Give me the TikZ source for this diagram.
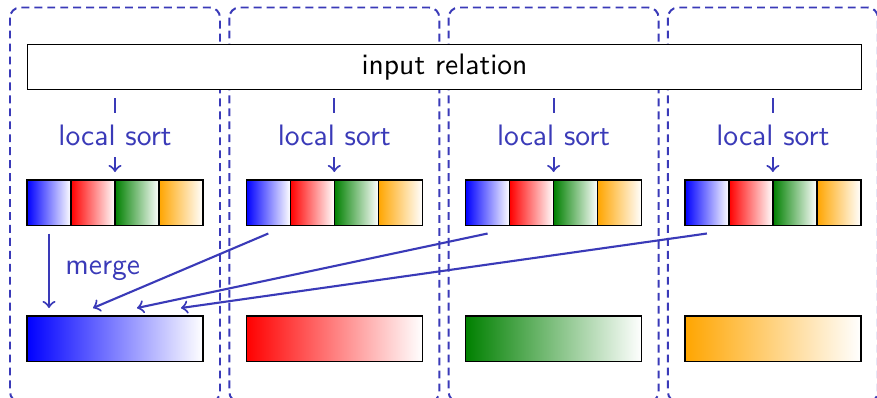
\documentclass[tikz,border=0pt]{standalone}
\usetikzlibrary{calc}
\definecolor{accent}{RGB}{58,58,184}
\definecolor{myorange}{RGB}{255,165,0}
\definecolor{mygreen}{RGB}{0,128,0}
\newlength\pxunit
\setlength\pxunit{0.355pt}
\begin{document}
\begin{tikzpicture}[x=\pxunit,y=-\pxunit, font=\sffamily\fontsize{10.5}{12.5}\selectfont,
  part/.style={draw=accent, dash pattern=on 2.8pt off 1.8pt, line width=0.7pt, rounded corners=3.6pt},
  seg/.style={draw=black, line width=0.45pt, minimum width=44\pxunit, minimum height=45.5\pxunit, inner sep=0pt, outer sep=0pt, anchor=north west},
  bigbar/.style={draw=black, line width=0.45pt, minimum width=176\pxunit, minimum height=45.5\pxunit, inner sep=0pt, outer sep=0pt, anchor=north west},
  flow/.style={->, draw=accent, line width=0.75pt},
  lbl/.style={text=accent, fill=white, inner sep=0pt, minimum height=44\pxunit}]
\useasboundingbox (0,0) rectangle (877,397);
% partition frames
\foreach \i in {0,1,2,3}{
  \draw[part] ({10+219.3*\i},7.5) rectangle ({220+219.3*\i},402);
}
% input relation
\node[draw=black, line width=0.45pt, fill=white, anchor=north west, minimum width=833.7\pxunit, minimum height=45\pxunit, inner sep=0pt] (input) at (27,44) {input relation};
% groups
\foreach \i in {0,1,2,3}{
  \pgfmathsetmacro{\xo}{27+219.3*\i}
  \node[seg, left color=blue, right color=white] (s\i a) at (\xo,180) {};
  \node[seg, left color=red, right color=white] (s\i b) at (s\i a.north east) {};
  \node[seg, left color=mygreen, right color=white] (s\i c) at (s\i b.north east) {};
  \node[seg, left color=myorange, right color=white] (s\i d) at (s\i c.north east) {};
  \coordinate (top\i) at ($(s\i b.north east)+(0,-8)$);
  \coordinate (src\i) at ($(top\i |- input.south)+(0,8)$);
  \draw[flow] (src\i) -- node[lbl] {local sort} (top\i);
}
\node[bigbar, left color=blue, right color=white] (b0) at (27,316) {};
\node[bigbar, left color=red, right color=white] (b1) at (246.3,316) {};
\node[bigbar, left color=mygreen, right color=white] (b2) at (465.6,316) {};
\node[bigbar, left color=myorange, right color=white] (b3) at (684.9,316) {};
% merge arrows
\foreach \i in {0,1,2,3}{
  \coordinate (from\i) at ($(s\i a.south)+(0,8)$);
  \coordinate (to\i) at ($(b0.north west)+({22+44*\i},-8)$);
}
\draw[flow] (from0) -- node[right, text=accent, xshift=6\pxunit] {merge} (to0);
\draw[flow] (from1) -- (to1);
\draw[flow] (from2) -- (to2);
\draw[flow] (from3) -- (to3);
\end{tikzpicture}
\end{document}
